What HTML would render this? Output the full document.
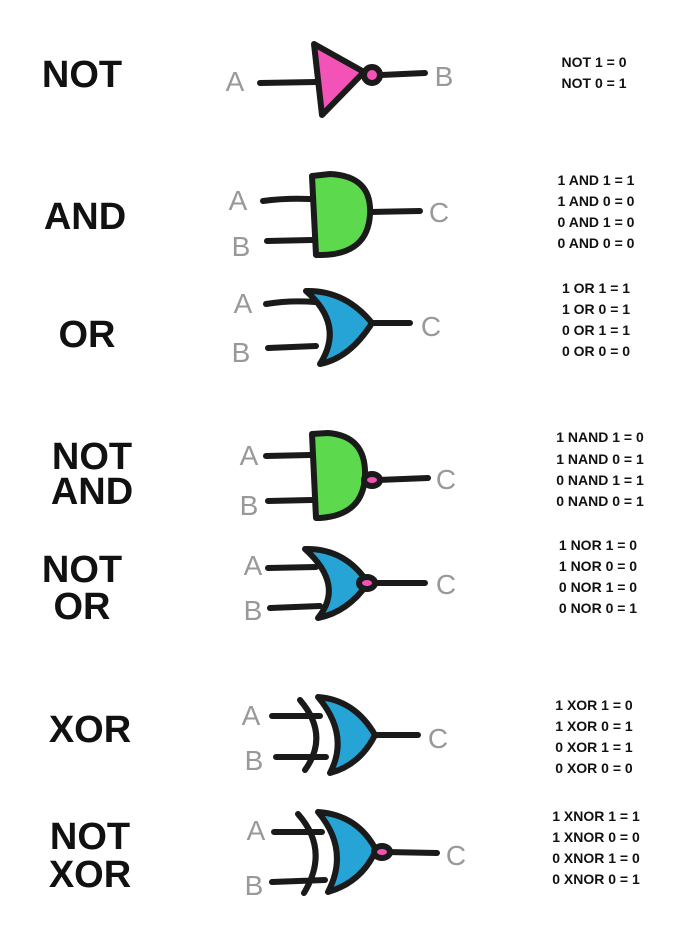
<!DOCTYPE html>
<html><head><style>
html,body{margin:0;padding:0;background:#fff}
svg{display:block}
.lbl{font-family:"Liberation Sans",sans-serif;font-weight:bold;font-size:38px;fill:#111}
.io{font-family:"Liberation Sans",sans-serif;font-size:28px;fill:#999}
.tt{font-family:"Liberation Sans",sans-serif;font-weight:bold;font-size:14px;fill:#111}
.w{stroke:#1a1a1a;stroke-width:6;stroke-linecap:round;stroke-linejoin:round;fill:none}
.g{stroke:#1a1a1a;stroke-width:6;stroke-linejoin:round}
</style></head><body>
<svg width="700" height="944" viewBox="0 0 700 944" xmlns="http://www.w3.org/2000/svg">
<!-- left labels -->
<g class="lbl" text-anchor="middle">
<text x="82" y="87">NOT</text>
<text x="85" y="229">AND</text>
<text x="87" y="347">OR</text>
<text x="92" y="469">NOT</text>
<text x="92" y="504">AND</text>
<text x="82" y="582">NOT</text>
<text x="82" y="619">OR</text>
<text x="90" y="742">XOR</text>
<text x="90" y="849">NOT</text>
<text x="90" y="887">XOR</text>
</g>
<!-- truth tables -->
<g class="tt" text-anchor="middle">
<text x="594" y="67">NOT 1 = 0</text><text x="594" y="88">NOT 0 = 1</text>
<text x="596" y="185">1 AND 1 = 1</text><text x="596" y="206">1 AND 0 = 0</text><text x="596" y="227">0 AND 1 = 0</text><text x="596" y="248">0 AND 0 = 0</text>
<text x="596" y="293">1 OR 1 = 1</text><text x="596" y="314">1 OR 0 = 1</text><text x="596" y="335">0 OR 1 = 1</text><text x="596" y="356">0 OR 0 = 0</text>
<text x="600" y="442">1 NAND 1 = 0</text><text x="600" y="464">1 NAND 0 = 1</text><text x="600" y="485">0 NAND 1 = 1</text><text x="600" y="506">0 NAND 0 = 1</text>
<text x="598" y="550">1 NOR 1 = 0</text><text x="598" y="571">1 NOR 0 = 0</text><text x="598" y="592">0 NOR 1 = 0</text><text x="598" y="613">0 NOR 0 = 1</text>
<text x="594" y="710">1 XOR 1 = 0</text><text x="594" y="731">1 XOR 0 = 1</text><text x="594" y="752">0 XOR 1 = 1</text><text x="594" y="773">0 XOR 0 = 0</text>
<text x="596" y="821">1 XNOR 1 = 1</text><text x="596" y="842">1 XNOR 0 = 0</text><text x="596" y="863">0 XNOR 1 = 0</text><text x="596" y="884">0 XNOR 0 = 1</text>
</g>
<!-- io labels -->
<g class="io" text-anchor="middle">
<text x="235" y="91">A</text><text x="444" y="86">B</text>
<text x="238" y="210">A</text><text x="241" y="256">B</text><text x="439" y="222">C</text>
<text x="243" y="313">A</text><text x="241" y="362">B</text><text x="431" y="336">C</text>
<text x="249" y="465">A</text><text x="249" y="515">B</text><text x="446" y="489">C</text>
<text x="253" y="575">A</text><text x="253" y="620">B</text><text x="446" y="594">C</text>
<text x="251" y="725">A</text><text x="254" y="770">B</text><text x="438" y="748">C</text>
<text x="256" y="840">A</text><text x="254" y="895">B</text><text x="456" y="865">C</text>
</g>
<!-- NOT -->
<path class="w" d="M260 83 L316 82 M380 75 L425 73"/>
<path class="g" fill="#f352b7" d="M314 44 L364 72 L322 115 Z"/>
<circle class="g" fill="#f352b7" cx="372" cy="75" r="8"/>
<!-- AND -->
<path class="w" d="M263 201 Q285 198 310 199 M267 241 L312 240 M370 212 L420 211"/>
<path class="g" fill="#5cd94c" d="M312 176 L330 174 Q372 176 370 214 Q368 254 322 255 L316 255 Z"/>
<!-- OR -->
<path class="w" d="M266 304 Q290 300 315 302 M268 348 L316 346 M372 323 L410 323"/>
<path class="g" fill="#27a4d6" d="M306 291 Q345 290 372 323 Q350 358 320 364 Q345 325 306 291 Z"/>
<!-- NAND -->
<path class="w" d="M266 456 L310 455 M268 501 L312 500 M378 480 L428 478"/>
<path class="g" fill="#5cd94c" d="M312 434 L328 433 Q366 436 365 475 Q364 515 320 518 L316 518 Z"/>
<ellipse class="g" fill="#f352b7" cx="372" cy="480" rx="8" ry="6"/>
<!-- NOR -->
<path class="w" d="M268 568 L316 567 M270 608 L320 606 M372 583 L425 583"/>
<path class="g" fill="#27a4d6" d="M305 549 Q345 548 368 583 Q348 612 318 618 Q345 585 305 549 Z"/>
<ellipse class="g" fill="#f352b7" cx="367" cy="583" rx="8" ry="6"/>
<!-- XOR -->
<path class="w" d="M272 716 L320 716 M276 757 L326 757 M375 735 L418 735 M300 700 Q330 735 305 770"/>
<path class="g" fill="#27a4d6" d="M318 697 Q355 700 375 735 Q360 765 330 773 Q350 735 318 697 Z"/>
<!-- XNOR -->
<path class="w" d="M274 832 L322 832 M272 882 L325 880 M386 852 L437 853 M298 814 Q330 850 304 893"/>
<path class="g" fill="#27a4d6" d="M318 812 Q358 815 376 850 Q362 882 328 892 Q350 850 318 812 Z"/>
<ellipse class="g" fill="#f352b7" cx="382" cy="852" rx="8" ry="6"/>
</svg>
</body></html>
